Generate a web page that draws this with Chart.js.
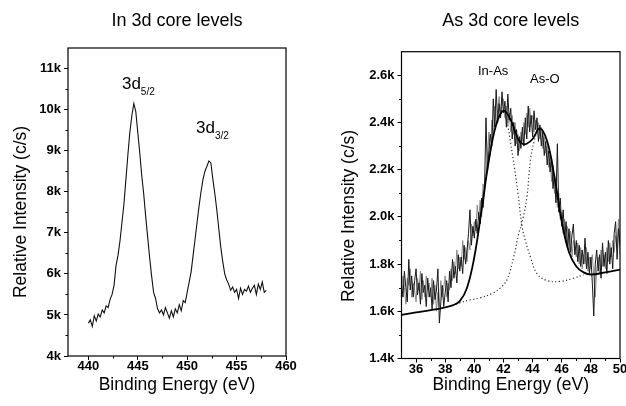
<!DOCTYPE html>
<html>
<head>
<meta charset="utf-8">
<script src="https://cdn.jsdelivr.net/npm/chart.js@4.4.1/dist/chart.umd.min.js"></script>
<style>
  body { margin: 0; background: #fff; }
  .panel { position: absolute; top: 0; width: 313px; height: 406px; }
</style>
</head>
<body>
<div class="panel" style="left:0"><canvas id="inChart" width="313" height="406"></canvas></div>
<div class="panel" style="left:313px"><canvas id="asChart" width="313" height="406"></canvas></div>
<script>
// In 3d spectrum, sampled every 0.2 eV from 440 eV (values in k c/s)
const inEnergyStart = 440;
const inEnergyStep = 0.2;
const inIntensity = [
    4.80, 4.88, 4.72, 4.98, 4.85, 5.02, 4.95, 5.12, 5.05, 5.22,
    5.18, 5.38, 5.50, 5.72, 6.20, 6.45, 6.80, 7.25, 7.70, 8.30,
    8.90, 9.45, 9.85, 10.15, 9.95, 9.45, 8.95, 8.40, 7.95, 7.40,
    6.90, 6.40, 5.95, 5.55, 5.40, 5.15, 5.05, 5.12, 5.00, 5.18,
    5.05, 4.92, 5.10, 4.95, 5.15, 5.05, 5.25, 5.10, 5.35, 5.30,
    5.55, 5.80, 6.05, 6.45, 6.85, 7.25, 7.65, 8.00, 8.30, 8.50,
    8.62, 8.75, 8.70, 8.30, 7.95, 7.55, 7.10, 6.65, 6.30, 6.00,
    5.85, 5.75, 5.60, 5.68, 5.55, 5.62, 5.40, 5.65, 5.50, 5.62,
    5.58, 5.70, 5.55, 5.65, 5.72, 5.50, 5.75, 5.62, 5.80, 5.55,
    5.60
];
const inXTicks = [440, 445, 450, 455, 460];
const inYTicks = [4, 5, 6, 7, 8, 9, 10, 11];
const inYLabels = ['4k', '5k', '6k', '7k', '8k', '9k', '10k', '11k'];

// As 3d spectrum, two overlaid scans sampled every 0.1 eV from 35 eV (k c/s)
const asEnergyStart = 35;
const asEnergyStep = 0.1;
const asIntensity = [
    1.72, 1.66, 1.77, 1.70, 1.64, 1.82, 1.69, 1.75, 1.66, 1.73,
    1.78, 1.67, 1.72, 1.63, 1.76, 1.68, 1.71, 1.62, 1.74, 1.66,
    1.70, 1.61, 1.73, 1.65, 1.69, 1.78, 1.55, 1.64, 1.71, 1.62,
    1.68, 1.73, 1.64, 1.77, 1.70, 1.82, 1.74, 1.79, 1.72, 1.84,
    1.77, 1.83, 1.76, 1.88, 1.80, 1.86, 1.93, 2.03, 1.88, 1.96,
    1.91, 1.99, 1.93, 2.02, 1.97, 2.08, 2.04, 2.12, 2.42, 2.19,
    2.28, 2.35, 2.30, 2.50, 2.38, 2.54, 2.40, 2.48, 2.42, 2.53,
    2.44, 2.49, 2.38, 2.52, 2.41, 2.46, 2.33, 2.40, 2.30, 2.37,
    2.26, 2.34, 2.29, 2.38, 2.30, 2.42, 2.33, 2.47, 2.36, 2.43,
    2.34, 2.45, 2.37, 2.42, 2.32, 2.39, 2.30, 2.36, 2.26, 2.32,
    2.22, 2.28, 2.19, 2.25, 2.12, 2.18, 2.06, 2.31, 2.02, 2.08,
    1.96, 2.03, 1.91, 1.98, 1.87, 1.95, 1.85, 1.92, 1.97, 1.84,
    1.90, 1.81, 1.88, 1.79, 1.86, 1.80, 1.91, 1.78, 1.85, 1.76,
    1.83, 1.72, 1.58, 1.80, 1.86, 1.77, 1.84, 1.74, 1.89, 1.79,
    1.85, 1.76, 1.90, 1.80, 1.87, 1.78, 1.93, 1.98, 1.82, 1.95,
    1.88
];
const asIntensityGrey = [
    1.68, 1.75, 1.70, 1.63, 1.74, 1.71, 1.78, 1.66, 1.72, 1.69,
    1.64, 1.74, 1.69, 1.77, 1.65, 1.73, 1.66, 1.75, 1.69, 1.72,
    1.66, 1.74, 1.63, 1.71, 1.60, 1.68, 1.62, 1.73, 1.66, 1.70,
    1.75, 1.66, 1.72, 1.69, 1.78, 1.73, 1.81, 1.76, 1.86, 1.78,
    1.83, 1.79, 1.90, 1.82, 1.87, 1.81, 1.90, 1.86, 1.97, 1.92,
    1.98, 1.94, 2.05, 1.99, 2.07, 2.00, 2.14, 2.10, 2.18, 2.25,
    2.36, 2.26, 2.41, 2.34, 2.47, 2.39, 2.45, 2.51, 2.43, 2.47,
    2.50, 2.42, 2.47, 2.39, 2.44, 2.36, 2.43, 2.35, 2.40, 2.31,
    2.35, 2.28, 2.36, 2.32, 2.40, 2.35, 2.44, 2.38, 2.46, 2.40,
    2.43, 2.36, 2.41, 2.35, 2.40, 2.33, 2.38, 2.29, 2.34, 2.27,
    2.30, 2.21, 2.26, 2.15, 2.22, 2.10, 2.14, 2.04, 2.10, 1.99,
    2.02, 1.93, 1.99, 1.89, 1.96, 1.86, 1.94, 1.83, 1.90, 1.87,
    1.83, 1.89, 1.80, 1.87, 1.78, 1.84, 1.80, 1.87, 1.77, 1.83,
    1.78, 1.84, 1.75, 1.66, 1.78, 1.83, 1.76, 1.86, 1.79, 1.84,
    1.78, 1.87, 1.81, 1.89, 1.83, 1.90, 1.85, 1.92, 1.87, 1.99,
    1.84
];

// fitted envelope (solid)
const fitEnergy = [35, 36, 37, 38, 38.5, 39, 39.5, 40, 40.5, 41, 41.5, 42, 42.5, 43, 43.3, 43.6, 44, 44.5, 45, 45.5, 46, 46.5, 47, 47.5, 48, 49, 50];
const fitEnvelope = [1.585, 1.595, 1.605, 1.617, 1.625, 1.643, 1.70, 1.83, 2.03, 2.24, 2.39, 2.45, 2.41, 2.33, 2.31, 2.31, 2.33, 2.375, 2.32, 2.17, 1.98, 1.85, 1.79, 1.765, 1.756, 1.765, 1.777];

// In-As component (dotted)
const inAsEnergy = [41.8, 42.0, 42.25, 42.5, 42.75, 43.0, 43.25, 43.5, 43.85, 44.3, 45.0, 45.9, 46.8, 47.5];
const inAsFit = [2.45, 2.45, 2.40, 2.31, 2.21, 2.10, 1.97, 1.90, 1.83, 1.76, 1.73, 1.727, 1.74, 1.755];

// As-O component (dotted)
const asOEnergy = [38.5, 39.0, 39.7, 40.4, 41.3, 41.8, 42.25, 42.7, 43.05, 43.25, 43.6, 43.85, 44.1, 44.3];
const asOFit = [1.625, 1.636, 1.648, 1.657, 1.678, 1.70, 1.735, 1.83, 1.93, 1.97, 2.08, 2.24, 2.32, 2.36];

const asXTicks = [36, 38, 40, 42, 44, 46, 48, 50];
const asYTicks = [1.4, 1.6, 1.8, 2.0, 2.2, 2.4, 2.6];
const asYLabels = ['1.4k', '1.6k', '1.8k', '2.0k', '2.2k', '2.4k', '2.6k'];

const FONT = '"Liberation Sans", Arial, sans-serif';
Chart.defaults.font.family = FONT;
Chart.defaults.color = '#000';

function toPoints(xs, ys) {
    return ys.map((y, i) => ({ x: xs[i], y: y }));
}
function grid(start, step, n) {
    const out = [];
    for (let i = 0; i < n; i++) out.push(+(start + i * step).toFixed(2));
    return out;
}

// box around the plot, minor ticks, y title and peak labels
const frameAndLabels = {
    id: 'frameAndLabels',
    afterDraw(chart, args, opts) {
        const { ctx, chartArea: a, scales: { x, y } } = chart;
        ctx.save();
        ctx.strokeStyle = '#000';
        ctx.lineWidth = 1;

        // minor ticks half way between majors
        [x, y].forEach(s => {
            const t = s.ticks.map(k => k.value);
            const step = t[1] - t[0];
            ctx.beginPath();
            for (let v = t[0] - step / 2; v < s.max; v += step) {
                if (v <= s.min) continue;
                const p = Math.round(s.getPixelForValue(v)) + 0.5;
                if (s === x) { ctx.moveTo(p, a.bottom); ctx.lineTo(p, a.bottom + 2.5); }
                else { ctx.moveTo(a.left, p); ctx.lineTo(a.left - 2.5, p); }
            }
            ctx.stroke();
        });

        ctx.lineWidth = 1.2;
        ctx.strokeRect(a.left, a.top, a.right - a.left, a.bottom - a.top);

        ctx.fillStyle = '#000';
        ctx.textBaseline = 'alphabetic';
        ctx.textAlign = 'left';
        (opts.labels || []).forEach(l => {
            const px = x.getPixelForValue(l.x);
            const py = y.getPixelForValue(l.y);
            ctx.font = l.size + 'px ' + FONT;
            ctx.fillText(l.text, px, py);
            if (l.sub) {
                const w = ctx.measureText(l.text).width;
                ctx.font = '10px ' + FONT;
                ctx.fillText(l.sub, px + w, py + 6);
            }
        });

        if (opts.yTitle) {
            ctx.translate(opts.yTitle.x, opts.yTitle.y);
            ctx.rotate(-Math.PI / 2);
            ctx.font = '17.5px ' + FONT;
            ctx.textAlign = 'center';
            ctx.textBaseline = 'middle';
            ctx.fillText(opts.yTitle.text, 0, 0);
        }
        ctx.restore();
    }
};

function axisX(min, max, ticks, height) {
    return {
        type: 'linear', min: min, max: max,
        afterBuildTicks: s => { s.ticks = ticks.map(v => ({ value: v })); },
        afterFit: s => { s.height = height; s.paddingLeft = 0; s.paddingRight = 0; },
        border: { display: false },
        grid: { drawOnChartArea: false, color: '#000', tickColor: '#000', tickLength: 4 },
        ticks: { font: { size: 13, weight: 'bold', lineHeight: 1 }, color: '#000', padding: 0, maxRotation: 0 },
        title: { display: true, text: 'Binding Energy (eV)', font: { size: 17.5 }, color: '#000', padding: { top: 0, bottom: 10.5 } }
    };
}
function axisY(min, max, ticks, labels, width) {
    return {
        min: min, max: max,
        afterBuildTicks: s => { s.ticks = ticks.map(v => ({ value: v })); },
        afterFit: s => { s.width = width; s.paddingTop = 0; s.paddingBottom = 0; },
        border: { display: false },
        grid: { drawOnChartArea: false, color: '#000', tickColor: '#000', tickLength: 4 },
        ticks: {
            font: { size: 13, weight: 'bold' }, color: '#000', padding: 3,
            callback: v => labels[ticks.findIndex(t => Math.abs(t - v) < 1e-6)]
        }
    };
}

new Chart(document.getElementById('inChart'), {
    type: 'line',
    data: {
        datasets: [{
            data: toPoints(grid(inEnergyStart, inEnergyStep, inIntensity.length), inIntensity),
            borderColor: '#111', borderWidth: 1.1, pointRadius: 0, tension: 0
        }]
    },
    options: {
        responsive: false, animation: false,
        layout: { padding: { left: 0, right: 27, top: 0, bottom: 0 } },
        plugins: {
            legend: { display: false }, tooltip: { enabled: false },
            title: {
                display: true, text: 'In 3d core levels', fullSize: false, color: '#000',
                font: { size: 18, weight: 'normal' }, padding: { top: 10, bottom: 16.4 }
            },
            frameAndLabels: {
                yTitle: { text: 'Relative Intensity (c/s)', x: 21, y: 212 },
                labels: [
                    { text: '3d', sub: '5/2', x: 443.4, y: 10.5, size: 17 },
                    { text: '3d', sub: '3/2', x: 450.9, y: 9.43, size: 17 }
                ]
            }
        },
        scales: {
            x: axisX(437.94, 460, inXTicks, 50),
            y: axisY(4, 11.5, inYTicks, inYLabels, 68)
        }
    },
    plugins: [frameAndLabels]
});

new Chart(document.getElementById('asChart'), {
    type: 'line',
    data: {
        datasets: [
            { data: toPoints(fitEnergy, fitEnvelope), borderColor: '#000', borderWidth: 1.8, pointRadius: 0, tension: 0.4 },
            { data: toPoints(inAsEnergy, inAsFit), borderColor: '#333', borderWidth: 1.2, borderDash: [1.2, 2.4], pointRadius: 0, tension: 0.4 },
            { data: toPoints(asOEnergy, asOFit), borderColor: '#333', borderWidth: 1.2, borderDash: [1.2, 2.4], pointRadius: 0, tension: 0.4 },
            { data: toPoints(grid(asEnergyStart, asEnergyStep, asIntensity.length), asIntensity), borderColor: '#1a1a1a', borderWidth: 1, pointRadius: 0, tension: 0 },
            { data: toPoints(grid(asEnergyStart, asEnergyStep, asIntensityGrey.length), asIntensityGrey), borderColor: '#8a8a8a', borderWidth: 1, pointRadius: 0, tension: 0 }
        ]
    },
    options: {
        responsive: false, animation: false,
        layout: { padding: { left: 0, right: 6, top: 0, bottom: 0 } },
        plugins: {
            legend: { display: false }, tooltip: { enabled: false },
            title: {
                display: true, text: 'As 3d core levels', fullSize: false, color: '#000',
                font: { size: 18, weight: 'normal' }, padding: { top: 10, bottom: 20.1 }
            },
            frameAndLabels: {
                yTitle: { text: 'Relative Intensity (c/s)', x: 36, y: 216 },
                labels: [
                    { text: 'In-As', x: 40.25, y: 2.602, size: 13 },
                    { text: 'As-O', x: 43.82, y: 2.567, size: 13 }
                ]
            }
        },
        scales: {
            x: axisX(35, 50, asXTicks, 47.5),
            y: axisY(1.4, 2.7, asYTicks, asYLabels, 88.5)
        }
    },
    plugins: [frameAndLabels]
});
</script>
</body>
</html>
